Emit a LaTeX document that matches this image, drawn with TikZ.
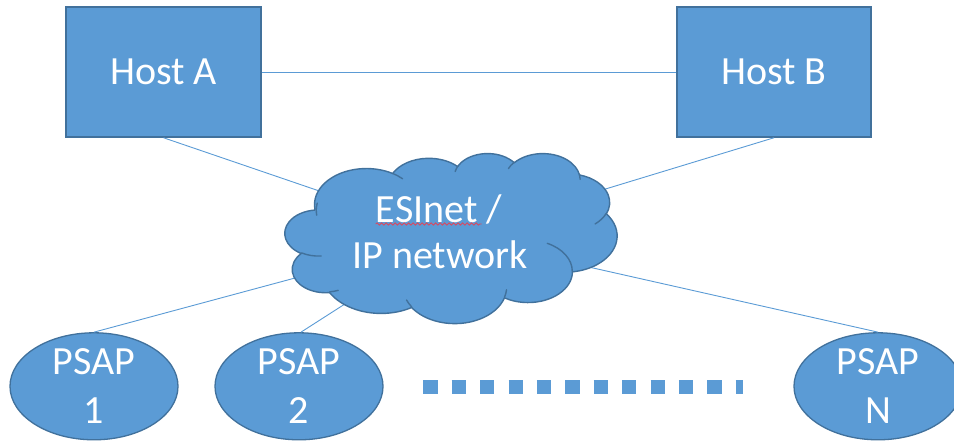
\documentclass[tikz,border=0pt]{standalone}
\usepackage{fontspec}
\setmainfont{Carlito}
\usetikzlibrary{shapes.geometric,decorations.pathmorphing}

\definecolor{shapefill}{HTML}{5B9BD5}
\definecolor{shapeline}{HTML}{41719C}
\definecolor{spellred}{HTML}{D9485F}

\tikzset{
  bigtext/.style={text=white, font=\fontsize{40pt}{49pt}\selectfont},
  hostbox/.style={rectangle, draw=shapeline, fill=shapefill, line width=1.5pt,
    minimum width=195pt, minimum height=130pt, inner sep=0pt, bigtext},
  psap/.style={ellipse, draw=shapeline, fill=shapefill, line width=1.3pt,
    minimum width=168pt, minimum height=107pt, inner sep=0pt, align=center, bigtext},
  cloudtext/.style={inner sep=0pt, anchor=base, bigtext},
  link/.style={draw=shapefill, line width=0.9pt},
  cloudbody/.style={draw=shapeline, fill=shapefill, line width=1.4pt, line join=round},
  cloudcrease/.style={draw=shapeline, line width=1.4pt, line cap=round},
  dots/.style={draw=shapefill, line width=14.3pt, dash pattern=on 14.3pt off 14.1pt},
  spell/.style={draw=spellred, line width=0.8pt, decorate,
    decoration={snake, segment length=4.5pt, amplitude=1.1pt}},
  % elliptic arc given by radii, visual start angle and sweep (degrees)
  ooarc/.style n args={4}{
    x radius=#1, y radius=#2,
    start angle={atan2((#1)*sin(#3),(#2)*cos(#3))},
    delta angle={mod(atan2((#1)*sin((#3)+(#4)),(#2)*cos((#3)+(#4)))-atan2((#1)*sin(#3),(#2)*cos(#3))+720,360)}
  }
}

\begin{document}
\begin{tikzpicture}[x=1pt, y=-1pt]
\useasboundingbox (0,0) rectangle (954,442);

% nodes
\node[hostbox] (hostA) at (163.5,72) {Host A};
\node[hostbox, minimum width=194pt] (hostB) at (774,72) {Host B};
\coordinate (cloud) at (451,236);

% connectors (the cloud is painted over their inner ends)
\draw[link] (hostA.east) -- (hostB.west);
\draw[link] (hostA.south) -- (cloud);
\draw[link] (hostB.south) -- (cloud);

\node[psap] (p1) at (94,386.3) {PSAP\\1};
\node[psap] (p2) at (299,386.3) {PSAP\\2};
\node[psap] (pN) at (878,386.3) {PSAP\\N};

\draw[link] (p1.north) -- (cloud);
\draw[link] ([xshift=2pt]p2.north) -- (cloud);
\draw[link] (pN.north) -- (cloud);

% the network cloud
\begin{scope}[shift={(285,153)}, x=0.76852pt, y=-0.39352pt]
  \filldraw[cloudbody] (39.00,143.70)
    arc[ooarc={67.53}{91.90}{-190.4875}{123.7805}]
    arc[ooarc={53.33}{72.67}{-144.1024}{89.9452}]
    arc[ooarc={43.65}{59.45}{-145.8079}{99.7230}]
    arc[ooarc={48.57}{65.95}{-130.9861}{117.2417}]
    arc[ooarc={53.33}{72.73}{-78.7089}{109.0269}]
    arc[ooarc={67.75}{92.20}{-46.2673}{130.2690}]
    arc[ooarc={57.85}{78.67}{0.6250}{114.0333}]
    arc[ooarc={67.52}{92.15}{22.4516}{115.1726}]
    arc[ooarc={77.20}{105.43}{66.2426}{75.7110}]
    arc[ooarc={43.60}{59.18}{-274.9421}{146.7356}]
    arc[ooarc={43.45}{59.45}{-246.8285}{152.5189}]
    -- cycle;
  \draw[cloudcrease]
    (46.93,261.77) arc[ooarc={43.45}{59.45}{86.7420}{26.4295}]
    (69.28,348.99) arc[ooarc={43.60}{59.18}{73.6105}{11.4475}]
    (164.78,390.90) arc[ooarc={67.52}{92.15}{137.6242}{14.0811}]
    (288.27,347.51) arc[ooarc={67.52}{92.15}{6.4533}{15.9984}]
    (341.29,229.54) arc[ooarc={57.85}{78.67}{-70.2924}{70.9174}]
    (417.98,153.54) arc[ooarc={53.33}{72.73}{30.3180}{27.7515}]
    (383.24,54.26) arc[ooarc={48.57}{65.95}{-13.7443}{14.8589}]
    (290.78,39.52) arc[ooarc={48.57}{65.95}{-149.1815}{18.1954}]
    (221.41,47.20) arc[ooarc={43.65}{59.45}{-163.4943}{17.6864}]
    (140.00,51.92) arc[ooarc={67.53}{91.90}{-66.7070}{12.3194}]
    (41.27,157.89) arc[ooarc={67.53}{91.90}{-190.4875}{25.8366}];
\end{scope}

\node[cloudtext] (net1) at (439,222) {ESInet /};
\node[cloudtext] (net2) at (440,268) {IP network};
\draw[spell] ([yshift=-2pt]net1.base west) -- ++(106,0);

% row of square dots between the PSAPs
\coordinate (dotsL) at (423.3,387);
\coordinate (dotsR) at (743.3,387);
\draw[dots] (dotsL) -- (dotsR);
\end{tikzpicture}
\end{document}
